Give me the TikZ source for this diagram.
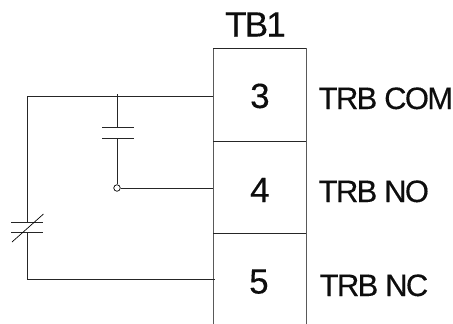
\documentclass[tikz,border=0pt]{standalone}
\usepackage{fontspec}
\setmainfont{Liberation Sans}
\newfontfamily\tight[LetterSpace=-5,FakeBold=0.25]{Liberation Sans}
\newfontfamily\tighter[LetterSpace=-5.5,FakeBold=0.25]{Liberation Sans}
\tikzset{
  wire/.style={line width=0.85pt,draw=black!85},
  frame/.style={line width=1pt,draw=black!65},
  lbl/.style={inner sep=0pt,anchor=base west,text=black!95},
  big/.style={lbl,font=\tight\fontsize{35}{35}\selectfont},
  side/.style={lbl,font=\tighter\fontsize{31}{31}\selectfont},
}
\begin{document}
\begin{tikzpicture}[x=1pt,y=-1pt]
\useasboundingbox (0,0) rectangle (453,324);
% terminal block
\coordinate (tl) at (213,48); \coordinate (tr) at (306,48);
\coordinate (ml) at (213,141); \coordinate (mr) at (306,141);
\coordinate (nl) at (213,233); \coordinate (nr) at (306,233);
\coordinate (bl) at (213,324); \coordinate (br) at (306,324);
\draw[frame] (bl) -- (tl);
\draw[frame] (br) -- (tr);
\draw[wire] (tl) -- (tr);
\draw[wire] (ml) -- (mr);
\draw[wire] (nl) -- (nr);
% terminals on block
\coordinate (t3) at (213,96); \coordinate (t4) at (213,188); \coordinate (t5) at (215,279);
% corners
\coordinate (c3) at (27,96); \coordinate (c5) at (27,279);
% NC contact
\coordinate (ncA) at (27,222.7); \coordinate (ncB) at (27,232.7);
\draw[wire] (t3) -- (c3) -- (ncA);
\draw[wire] (ncB) -- (c5) -- (t5);
\draw[wire] (11,222.7) -- (43,222.7);
\draw[wire] (11,232.7) -- (43,232.7);
\draw[line width=0.7pt] (12,242) -- (43.5,214);
% NO contact
\coordinate (noT) at (117,94); \coordinate (noA) at (117,127.7);
\coordinate (noB) at (117,138);
\node[circle,draw=black,line width=0.7pt,fill=white,minimum size=6.5pt,inner sep=0pt] (pivot) at (117,188) {};
\draw[wire] (noT) -- (noA);
\draw[wire] (noB) -- (pivot);
\draw[wire] (pivot) -- (t4);
\draw[wire] (102,127.7) -- (134,127.7);
\draw[wire] (102,138) -- (134,138);
% labels
\node[big] (tb) at (225,36.5) {TB1};
\node[big] (n3) at (250,108) {3};
\node[big] (n4) at (250,202) {4};
\node[big] (n5) at (249,293.5) {5};
\node[side] (a) at (318.5,109) {TRB COM};
\node[side] (b) at (318.5,202) {TRB NO};
\node[side] (c) at (319.5,296) {TRB NC};
\end{tikzpicture}
\end{document}
